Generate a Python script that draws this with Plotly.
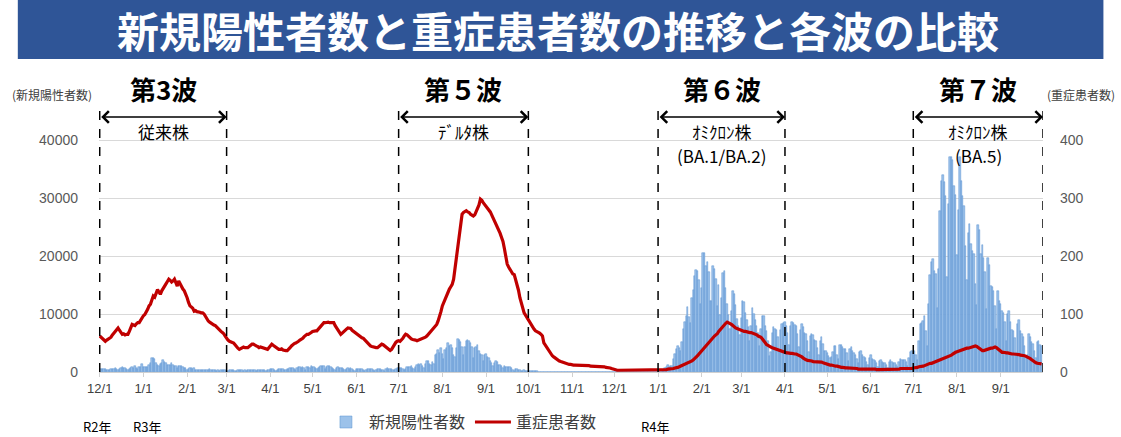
import datetime as dt

import plotly.graph_objects as go
from plotly.subplots import make_subplots

START = dt.date(2020, 12, 1)

# daily new positive cases, one row per week (Tue..Mon), from 2020-12-01
cases_weeks = [
    [370, 500, 530, 450, 580, 330, 300],
    [350, 570, 600, 595, 620, 480, 305],
    [460, 680, 820, 660, 740, 560, 390],
    [560, 750, 880, 710, 950, 710, 480],
    [860, 940, 1340, 780, 810, 820, 880],
    [1280, 1590, 2450, 2390, 2270, 1490, 1220],
    [970, 1430, 1500, 2000, 1810, 1590, 1200],
    [1240, 1270, 1470, 1180, 1070, 990, 620],
    [1030, 970, 1060, 870, 770, 630, 390],
    [560, 680, 730, 580, 640, 430, 280],
    [410, 430, 310, 370, 370, 370, 270],
    [380, 450, 350, 330, 330, 270, 180],
    [280, 210, 340, 270, 340, 330, 230],
    [230, 320, 280, 300, 290, 240, 120],
    [290, 340, 300, 300, 240, 330, 180],
    [300, 410, 320, 300, 340, 260, 190],
    [340, 420, 390, 430, 390, 310, 230],
    [360, 410, 480, 440, 450, 360, 250],
    [400, 560, 550, 540, 570, 420, 310],
    [510, 590, 730, 670, 760, 540, 410],
    [710, 840, 860, 760, 880, 640, 430],
    [830, 930, 700, 1050, 900, 880, 610],
    [590, 620, 910, 1120, 1030, 1030, 570],
    [930, 970, 1010, 850, 770, 540, 420],
    [730, 840, 610, 680, 610, 540, 340],
    [540, 680, 510, 610, 540, 370, 240],
    [470, 490, 510, 440, 440, 350, 210],
    [370, 440, 440, 440, 470, 300, 210],
    [340, 500, 450, 450, 390, 380, 240],
    [440, 620, 570, 560, 530, 390, 320],
    [480, 710, 670, 660, 720, 520, 340],
    [590, 920, 900, 820, 950, 610, 500],
    [830, 1150, 1310, 1270, 1410, 1010, 730],
    [1390, 1830, 1980, 1360, 1130, 1760, 1430],
    [2850, 3180, 3870, 3300, 4060, 3060, 2200],
    [3710, 4170, 5040, 4520, 4570, 4070, 2880],
    [2610, 4200, 5770, 5600, 5090, 4300, 2960],
    [4380, 5390, 5530, 5410, 5070, 4390, 2450],
    [4220, 4230, 4700, 3580, 3160, 2910, 1920],
    [2910, 3170, 2540, 2360, 1850, 1630, 970],
    [1630, 1830, 1680, 1240, 1270, 1070, 610],
    [1000, 830, 860, 780, 860, 630, 300],
    [250, 540, 530, 380, 330, 240, 150],
    [270, 220, 200, 200, 200, 160, 90],
    [150, 140, 140, 80, 80, 60, 50],
    [80, 70, 60, 60, 70, 40, 30],
    [40, 40, 40, 30, 30, 20, 20],
    [30, 20, 20, 20, 20, 10, 20],
    [20, 30, 20, 20, 20, 10, 30],
    [20, 20, 25, 30, 20, 10, 25],
    [20, 30, 25, 15, 20, 10, 15],
    [15, 20, 20, 20, 25, 10, 5],
    [10, 15, 15, 20, 25, 10, 10],
    [15, 15, 20, 15, 20, 20, 10],
    [25, 30, 30, 25, 30, 20, 20],
    [30, 35, 40, 40, 45, 30, 30],
    [80, 60, 80, 80, 80, 100, 80],
    [150, 390, 640, 920, 1220, 870, 1000],
    [960, 2200, 3100, 4050, 4560, 4170, 3700],
    [5200, 7400, 8600, 9700, 11200, 9500, 8500],
    [12800, 14100, 16500, 17600, 17400, 15900, 11800],
    [14400, 20500, 20600, 18300, 19000, 17300, 12200],
    [12200, 18300, 17800, 16000, 11400, 15000, 9800],
    [12700, 17000, 17400, 14400, 11800, 9900, 7500],
    [10500, 14000, 13500, 11500, 9200, 8000, 6300],
    [9300, 12300, 12100, 10200, 9000, 7800, 5400],
    [8000, 11100, 10000, 8900, 8000, 6700, 4500],
    [7400, 9700, 9600, 8000, 7000, 5400, 2800],
    [3500, 6800, 7700, 7400, 7200, 6000, 3600],
    [7300, 8300, 8500, 8600, 8000, 6800, 4600],
    [8000, 8600, 8400, 8100, 7900, 6500, 4300],
    [7300, 8300, 7800, 6800, 6600, 5400, 3500],
    [6200, 6600, 6300, 5500, 5400, 4200, 3000],
    [5400, 6000, 4900, 3600, 3600, 3300, 2800],
    [2500, 2600, 3400, 4500, 4500, 3000, 2300],
    [4600, 4600, 4300, 3900, 4000, 3300, 1900],
    [4000, 4300, 3600, 3300, 3000, 2300, 1500],
    [3400, 3700, 2900, 2600, 2400, 1800, 1200],
    [2500, 2900, 2300, 2000, 1900, 1500, 900],
    [1900, 2000, 1700, 1600, 1500, 1200, 750],
    [1700, 2000, 1700, 1500, 1600, 1250, 800],
    [1800, 2200, 2000, 2000, 2000, 1700, 1100],
    [2500, 3500, 3600, 3200, 3700, 3000, 2000],
    [5300, 8300, 8500, 8800, 9700, 7000, 4400],
    [11700, 16700, 18900, 19500, 17400, 16900, 11000],
    [17800, 27800, 33000, 34000, 32700, 30400, 16400],
    [29000, 37000, 37000, 36600, 32000, 30600, 20100],
    [28000, 37000, 33000, 30300, 28700, 21700, 15900],
    [24000, 25500, 22000, 20900, 20300, 15200, 11500],
    [25400, 24500, 20300, 21900, 19700, 17200, 10900],
    [19700, 18500, 14900, 14600, 14000, 11300, 7400],
    [14000, 12300, 11800, 10600, 10200, 8600, 5300],
    [10000, 10600, 8600, 7200, 7100, 5800, 3200],
    [8300, 8900, 7000, 6500, 6000, 4500, 2700],
    [3000, 6600, 6000, 5200, 4800, 3700, 2400],
    [5100, 5300, 4700, 4400],
]

# daily severe patients, same week rows
severe_weeks = [
    [62, 60, 58, 55, 53, 55, 57],
    [59, 60, 64, 68, 70, 73, 76],
    [72, 68, 65, 66, 64, 65, 65],
    [70, 76, 82, 81, 80, 83, 85],
    [85, 89, 94, 97, 99, 103, 108],
    [114, 117, 124, 131, 129, 136, 142],
    [138, 134, 140, 145, 148, 152, 156],
    [160, 158, 155, 157, 160, 154, 148],
    [157, 152, 146, 143, 140, 135, 128],
    [120, 114, 112, 110, 105, 106, 104],
    [104, 103, 102, 102, 100, 95, 90],
    [88, 86, 84, 82, 81, 80, 77],
    [74, 72, 70, 68, 66, 62, 58],
    [55, 53, 52, 51, 50, 47, 43],
    [41, 39, 40, 42, 43, 42, 42],
    [42, 44, 46, 48, 48, 46, 45],
    [44, 42, 43, 42, 41, 40, 40],
    [39, 42, 45, 48, 46, 44, 42],
    [40, 39, 39, 40, 38, 37, 37],
    [37, 39, 42, 45, 48, 49, 50],
    [51, 53, 55, 56, 58, 61, 63],
    [65, 65, 66, 68, 70, 71, 71],
    [71, 74, 77, 80, 83, 85, 85],
    [86, 86, 85, 85, 85, 85, 80],
    [76, 71, 67, 65, 67, 70, 71],
    [74, 76, 76, 75, 72, 70, 68],
    [66, 65, 63, 61, 59, 58, 55],
    [52, 49, 47, 45, 44, 43, 43],
    [42, 42, 44, 46, 48, 47, 45],
    [42, 40, 38, 37, 39, 44, 48],
    [51, 53, 54, 53, 55, 58, 62],
    [65, 64, 61, 58, 57, 56, 56],
    [55, 54, 55, 56, 56, 57, 58],
    [60, 62, 65, 68, 70, 73, 76],
    [79, 82, 88, 95, 104, 114, 120],
    [127, 134, 139, 143, 147, 151, 160],
    [180, 202, 220, 238, 255, 272, 275],
    [277, 278, 276, 275, 272, 270, 269],
    [271, 276, 281, 288, 298, 296, 292],
    [289, 287, 283, 280, 276, 271, 266],
    [262, 257, 251, 246, 239, 232, 225],
    [213, 200, 186, 181, 176, 172, 169],
    [168, 160, 150, 141, 128, 118, 108],
    [102, 98, 94, 90, 84, 80, 77],
    [74, 71, 70, 69, 67, 65, 62],
    [50, 46, 43, 38, 34, 31, 28],
    [26, 24, 22, 21, 19, 18, 17],
    [16, 15, 14, 14, 13, 13, 12],
    [12, 12, 12, 11, 11, 11, 11],
    [11, 11, 11, 11, 11, 10, 10],
    [10, 10, 10, 10, 9, 9, 9],
    [9, 9, 8, 8, 8, 7, 6],
    [5, 4, 4, 3, 3, 3, 3],
    [3, 3, 3, 3, 3, 3, 3],
    [3, 3, 3, 3, 3, 3, 3],
    [3, 3, 3, 3, 3, 3, 3],
    [3, 3, 3, 3, 3, 3, 3],
    [3, 4, 4, 4, 5, 5, 5],
    [6, 6, 7, 7, 8, 9, 10],
    [11, 12, 13, 14, 15, 16, 17],
    [19, 21, 23, 25, 28, 31, 34],
    [37, 40, 43, 46, 49, 52, 55],
    [57, 60, 62, 64, 66, 70, 73],
    [77, 80, 82, 84, 86, 85, 84],
    [82, 80, 77, 76, 75, 74, 72],
    [71, 71, 70, 70, 69, 69, 68],
    [68, 67, 66, 66, 64, 62, 61],
    [60, 57, 53, 49, 47, 46, 44],
    [43, 42, 41, 40, 39, 38, 37],
    [36, 35, 34, 34, 33, 33, 32],
    [32, 32, 31, 31, 31, 30, 29],
    [28, 26, 24, 22, 21, 20, 20],
    [19, 19, 18, 18, 18, 18, 17],
    [17, 17, 16, 15, 14, 14, 13],
    [12, 12, 11, 11, 10, 10, 9],
    [9, 8, 8, 7, 7, 7, 7],
    [6, 6, 6, 6, 6, 6, 5],
    [5, 5, 5, 5, 6, 6, 6],
    [6, 5, 5, 5, 5, 4, 4],
    [4, 4, 4, 4, 4, 4, 4],
    [4, 4, 4, 4, 5, 5, 5],
    [5, 6, 6, 6, 6, 6, 5],
    [5, 5, 6, 7, 7, 8, 8],
    [9, 9, 10, 10, 11, 12, 14],
    [14, 15, 15, 16, 17, 17, 18],
    [19, 20, 21, 22, 23, 24, 25],
    [26, 27, 29, 31, 33, 34, 35],
    [36, 37, 38, 39, 39, 40, 41],
    [41, 42, 42, 43, 44, 45, 44],
    [42, 40, 38, 37, 37, 38, 39],
    [40, 40, 41, 41, 42, 43, 42],
    [40, 38, 36, 34, 34, 33, 33],
    [33, 32, 32, 31, 31, 31, 30],
    [30, 30, 29, 29, 28, 28, 27],
    [26, 25, 23, 21, 19, 17, 16],
    [15, 15, 14, 14],
]

tick_dates = ["2020-12-01", "2021-01-01", "2021-02-01", "2021-03-01", "2021-04-01",
              "2021-05-01", "2021-06-01", "2021-07-01", "2021-08-01", "2021-09-01",
              "2021-10-01", "2021-11-01", "2021-12-01", "2022-01-01", "2022-02-01",
              "2022-03-01", "2022-04-01", "2022-05-01", "2022-06-01", "2022-07-01",
              "2022-08-01", "2022-09-01"]
tick_labels = ["12/1", "1/1", "2/1", "3/1", "4/1", "5/1", "6/1", "7/1", "8/1", "9/1",
               "10/1", "11/1", "12/1", "1/1", "2/1", "3/1", "4/1", "5/1", "6/1", "7/1",
               "8/1", "9/1"]

# waves: title, strain, sub-lineage, start, end
wave_names = ["第3波", "第５波", "第６波", "第７波"]
wave_strains = ["従来株", "ﾃﾞﾙﾀ株", "ｵﾐｸﾛﾝ株", "ｵﾐｸﾛﾝ株"]
wave_lineages = ["", "", "(BA.1/BA.2)", "(BA.5)"]
wave_start = ["2020-12-01", "2021-07-01", "2022-01-01", "2022-07-01"]
wave_end = ["2021-03-01", "2021-10-01", "2022-04-01", "2022-10-01"]

cases = [v for w in cases_weeks for v in w]
severe = [v for w in severe_weeks for v in w]
dates = [START + dt.timedelta(days=i) for i in range(len(cases))]

FONT = "Noto Sans CJK JP"

fig = make_subplots(specs=[[{"secondary_y": True}]])

fig.add_trace(go.Bar(
    x=dates, y=cases, name="新規陽性者数",
    marker=dict(color="#9CC2EA", line=dict(color="#5B93D0", width=0.5)),
), secondary_y=False)

fig.add_trace(go.Scatter(
    x=dates, y=severe, name="重症患者数", mode="lines",
    line=dict(color="#C00000", width=3.2),
), secondary_y=True)

fig.update_layout(
    width=1121, height=437,
    margin=dict(l=99, r=78, t=111, b=65, autoexpand=False),
    paper_bgcolor="white", plot_bgcolor="white",
    bargap=0,
    font=dict(family=FONT, color="#404040"),
    showlegend=True,
    legend=dict(orientation="h", x=0.385, y=-0.192, xanchor="center", yanchor="middle",
                font=dict(size=16, color="#404040"), itemwidth=36),
)

fig.update_xaxes(
    type="date", domain=[0, 1],
    range=["2020-11-30 12:00", "2022-10-01"],
    tickvals=tick_dates, ticktext=tick_labels,
    tickfont=dict(size=13, color="#404040", family="Liberation Sans"),
    showgrid=False, showline=True, linecolor="#D0D0D0",
    ticks="outside", ticklen=4, tickcolor="#D0D0D0",
)
fig.update_yaxes(
    range=[0, 45000], tickvals=[0, 10000, 20000, 30000, 40000], tickformat="d",
    tickfont=dict(size=14, color="#595959", family="Liberation Sans"),
    showgrid=True, gridcolor="#D9D9D9", zeroline=False, ticklabelstandoff=20,
    secondary_y=False,
)
fig.update_yaxes(
    range=[0, 450], tickvals=[0, 100, 200, 300, 400],
    tickfont=dict(size=14, color="#595959", family="Liberation Sans"),
    showgrid=False, zeroline=False, ticklabelstandoff=16,
    secondary_y=True,
)

# title banner
fig.add_shape(type="rect", xref="paper", yref="paper", x0=-0.086, x1=1.064,
              y0=1.199, y1=1.43, fillcolor="#2F5597", line=dict(width=0), layer="above")
fig.add_annotation(xref="paper", yref="paper", x=0.486, y=1.314, yanchor="middle",
                   text="<b>新規陽性者数と重症患者数の推移と各波の比較</b>",
                   showarrow=False, font=dict(size=42, color="white", family=FONT))

for name, strain, lin, s, e in zip(wave_names, wave_strains, wave_lineages,
                                   wave_start, wave_end):
    for d in (s, e):
        fig.add_shape(type="line", xref="x", yref="paper", x0=d, x1=d, y0=0, y1=1.012,
                      line=dict(color="black", width=1.5, dash="dash"), layer="above")
    mid = dt.date.fromisoformat(s) + (dt.date.fromisoformat(e) - dt.date.fromisoformat(s)) / 2
    fig.add_annotation(x=e, y=0.977, xref="x", yref="paper", ax=s, ay=0,
                       axref="x", ayref="pixel", showarrow=True, arrowside="end+start",
                       arrowhead=4, arrowsize=1.5, arrowwidth=1.5, arrowcolor="black", text="")
    fig.add_annotation(x=mid, y=1.088, xref="x", yref="paper", yanchor="middle",
                       text=f"<b>{name}</b>", showarrow=False,
                       font=dict(size=26, color="black", family=FONT))
    fig.add_annotation(x=mid, y=0.923, xref="x", yref="paper", yanchor="middle",
                       text=strain, showarrow=False, borderpad=0,
                       font=dict(size=17, color="black", family=FONT))
    if lin:
        fig.add_annotation(x=mid, y=0.831, xref="x", yref="paper", yanchor="middle",
                           text=lin, showarrow=False, borderpad=0,
                           font=dict(size=17, color="black", family=FONT))

fig.add_annotation(xref="paper", yref="paper", x=-0.094, y=1.065, xanchor="left",
                   yanchor="middle", text="(新規陽性者数)", showarrow=False,
                   font=dict(size=12, color="#404040", family=FONT))
fig.add_annotation(xref="paper", yref="paper", x=1.002, y=1.065, xanchor="left",
                   yanchor="middle", text="(重症患者数)", showarrow=False,
                   font=dict(size=12, color="#404040", family=FONT))

for lbl, xp in [("R2年", -0.002), ("R3年", 0.051), ("R4年", 0.589)]:
    fig.add_annotation(xref="paper", yref="paper", x=xp, y=-0.207, xanchor="center",
                       yanchor="middle", text=lbl, showarrow=False,
                       font=dict(size=13, color="black", family=FONT))

# the page body has a default 8px margin; drop it so the figure sits at the corner
fig.write_html("out.html", config={"displayModeBar": False},
               post_script="document.body.style.margin = '0';")
